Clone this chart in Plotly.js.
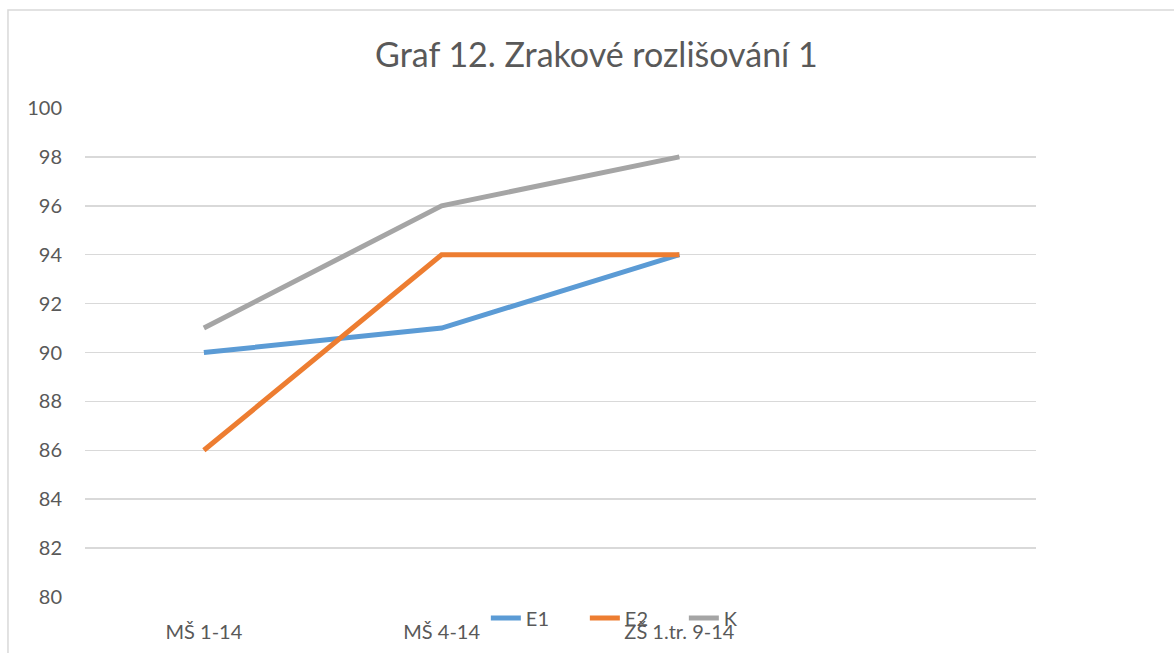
<!DOCTYPE html>
<html>
<head>
<meta charset="utf-8">
<script src="https://cdn.plot.ly/plotly-3.0.1.min.js"></script>
<style>html,body{margin:0;padding:0;background:#fff;}#chart{width:1174px;height:653px;}</style>
</head>
<body>
<div id="chart"></div>
<script>
const categories = ["MŠ 1-14", "MŠ 4-14", "ZŠ 1.tr. 9-14", ""];
const seriesNames = ["E1", "E2", "K"];
const e1 = [90, 91, 94];
const e2 = [86, 94, 94];
const k = [91, 96, 98];
const yTicks = [80, 82, 84, 86, 88, 90, 92, 94, 96, 98, 100];
const colors = ["#5b9bd5", "#ed7d31", "#a5a5a5"];

const idx = e1.map((_, i) => i);
const values = [e1, e2, k];
const traces = values.map((v, s) => ({
  type: "scatter", mode: "lines", name: seriesNames[s],
  x: idx, y: v,
  line: {color: colors[s], width: 5}
}));

const font = "Lato, 'Liberation Sans', sans-serif";
const layout = {
  width: 1174, height: 653,
  margin: {l: 85, r: 138, t: 108, b: 56},
  paper_bgcolor: "#fff", plot_bgcolor: "#fff",
  font: {family: font, color: "#595959", size: 20},
  title: {text: "Graf 12. Zrakové rozlišování 1", font: {family: font, size: 34, color: "#595959"},
          x: 0.508, xanchor: "center", y: 0.915, yanchor: "middle"},
  xaxis: {
    range: [-0.5, 3.5], tickvals: categories.map((_, i) => i), ticktext: categories,
    showgrid: false, zeroline: false, showline: false, ticks: "",
    ticklabelstandoff: 21, tickfont: {size: 20, color: "#595959"}, fixedrange: true
  },
  yaxis: {
    range: [80, 100], tickvals: yTicks, showgrid: true, gridcolor: "#d9d9d9", gridwidth: 1.5,
    zeroline: false, showline: false, ticks: "", ticklabelstandoff: 22,
    tickfont: {size: 20, color: "#595959"}, fixedrange: true
  },
  legend: {
    orientation: "h", x: 0.4215, xanchor: "left", y: -0.043, yanchor: "middle",
    bgcolor: "rgba(0,0,0,0)", font: {size: 20, color: "#595959"}, traceorder: "normal",
    entrywidth: 54, entrywidthmode: "pixels"
  },
  shapes: [{
    type: "rect", xref: "paper", yref: "paper",
    x0: -0.081, x1: 1.3, y0: -0.3, y1: 1.2004,
    line: {color: "#d9d9d9", width: 1.5}, fillcolor: "rgba(0,0,0,0)", layer: "below"
  }],
  showlegend: true
};
Plotly.newPlot("chart", traces, layout, {displayModeBar: false, staticPlot: true});
</script>
</body>
</html>
